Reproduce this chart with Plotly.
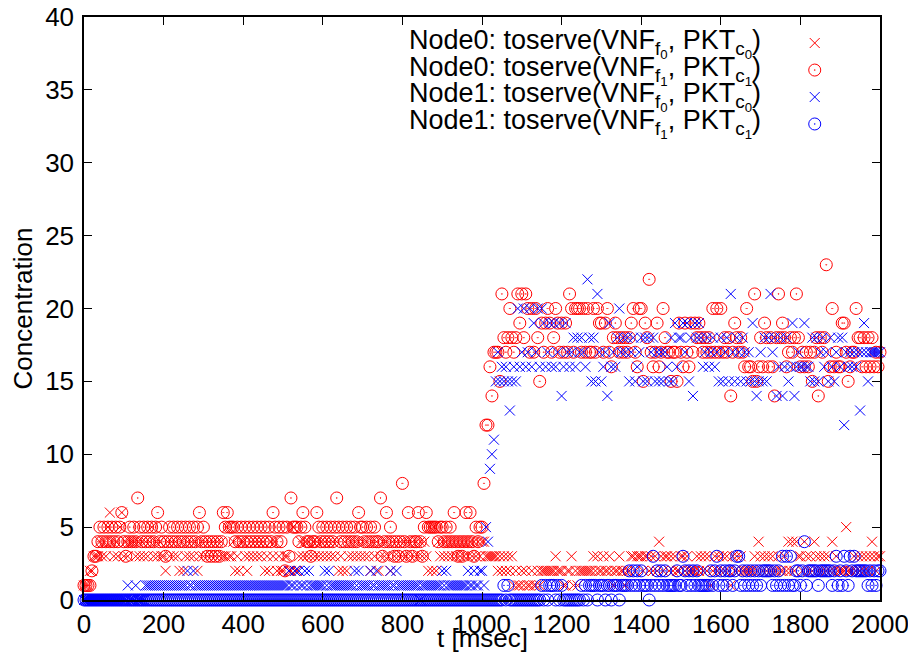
import plotly.graph_objects as go

# sampling times (ms)
t_ms = list(range(0, 2001, 5))

# Node0: toserve(VNF_f0, PKT_c0)  (red x)
node0_f0 = [
    1,1,1,2,2,3,3,3,4,3,4,3,5,6,4,3,4,3,5,6,
    3,4,3,4,4,4,3,4,3,4,3,4,3,4,5,3,4,3,4,3,
    3,2,4,3,4,3,4,3,2,4,2,3,4,3,4,3,4,2,3,4,
    3,4,3,4,3,4,3,4,3,4,3,3,5,3,3,4,2,3,2,4,
    4,3,2,3,4,3,4,3,4,3,4,2,3,2,4,3,4,2,3,2,
    2,3,3,2,2,5,2,2,3,4,3,4,3,4,3,4,3,4,3,4,
    3,4,3,4,3,4,3,4,2,3,2,4,2,3,4,3,4,3,4,3,
    4,3,4,3,2,4,3,4,2,3,4,3,4,3,2,4,3,4,3,4,
    3,4,3,4,3,4,3,4,3,4,3,4,3,2,5,2,5,2,4,3,
    4,3,4,3,4,3,4,3,4,3,4,3,4,3,4,3,4,3,4,3,
    4,4,3,3,3,3,3,3,2,3,2,3,2,3,2,3,1,2,1,1,
    2,1,2,1,1,2,1,1,2,1,2,2,2,2,2,2,2,3,2,2,
    2,1,1,2,2,3,1,2,1,2,2,2,2,2,2,2,3,2,3,2,
    2,3,2,2,3,2,1,2,2,3,2,2,1,2,2,3,3,2,3,3,
    3,2,3,3,2,3,2,3,2,4,3,2,3,3,2,3,2,3,2,2,
    3,3,2,3,2,2,2,2,3,2,3,2,3,2,3,1,2,3,2,3,
    2,3,2,3,2,1,3,2,3,2,3,2,2,2,2,2,2,3,2,4,
    3,2,3,2,3,2,3,2,2,3,2,2,3,2,4,2,4,2,4,3,
    3,2,4,3,2,3,2,4,3,2,3,2,3,2,3,2,4,2,3,2,
    2,2,2,5,2,2,2,3,2,3,2,3,2,3,2,3,4,3,2,3,
    3,
]

# Node0: toserve(VNF_f1, PKT_c1)  (red o)
node0_f1 = [
    1,1,1,1,2,3,3,4,5,4,5,4,5,4,5,4,5,4,5,6,
    4,3,4,5,4,5,4,7,5,4,5,4,5,4,5,4,5,6,4,5,
    4,3,4,5,4,5,4,5,4,5,4,5,4,5,4,5,4,5,6,4,
    5,4,3,4,3,4,3,4,3,4,6,5,6,5,5,5,4,5,4,5,
    4,5,4,5,4,5,4,5,4,5,4,5,4,5,4,6,5,4,5,4,
    5,2,5,3,7,5,5,5,4,5,6,5,4,4,3,4,4,6,5,4,
    5,4,5,4,5,4,5,7,5,4,5,4,5,4,5,4,5,4,6,5,
    5,4,5,4,5,4,5,4,4,7,3,4,6,4,5,4,3,4,3,4,
    8,4,3,6,4,3,4,4,6,4,3,5,6,5,5,5,5,5,4,5,
    5,4,5,4,5,4,6,4,3,4,3,4,6,4,6,4,3,5,4,5,
    5,8,12,12,16,14,17,17,17,15,21,18,17,18,20,18,17,18,21,19,
    21,18,21,20,17,20,17,20,18,15,19,17,19,20,19,17,18,20,19,17,
    19,17,19,17,21,20,17,20,20,20,17,20,17,20,17,17,20,17,20,19,
    19,17,19,20,17,16,18,19,18,17,18,17,18,17,18,19,20,17,16,20,
    20,15,19,18,22,17,16,17,19,16,17,20,18,17,17,15,17,17,15,19,
    17,16,19,17,16,19,17,19,18,19,18,17,18,17,18,17,20,17,20,17,
    20,17,18,17,18,14,17,19,18,17,18,17,16,20,16,16,15,21,15,16,
    18,16,19,18,16,18,16,14,18,21,18,19,18,16,17,18,17,18,21,18,
    16,17,16,17,16,17,15,17,18,14,18,17,18,23,15,16,20,16,17,16,
    16,19,19,17,15,16,17,17,20,18,18,16,18,16,18,16,18,16,17,16,
    17,
]

# Node1: toserve(VNF_f0, PKT_c0)  (blue x)
node1_f0 = [
    0,0,0,0,0,0,0,0,0,0,0,0,0,0,0,0,0,0,0,0,
    0,0,1,0,0,0,1,0,0,0,0,1,1,1,1,1,1,1,1,1,
    1,1,1,1,1,1,1,1,1,1,1,1,2,1,1,2,1,1,1,1,
    1,1,1,1,1,1,1,1,1,1,1,1,1,1,1,1,1,1,1,1,
    1,1,1,1,1,1,1,1,1,1,1,1,1,1,1,1,1,1,1,1,
    1,1,1,2,1,1,2,1,2,1,1,2,1,2,1,1,1,1,1,1,
    1,2,1,2,1,1,1,1,1,1,1,1,1,1,1,1,2,1,2,1,
    1,1,1,1,2,1,1,2,1,1,1,1,1,1,2,1,1,2,1,1,
    1,1,1,1,1,1,1,1,1,0,1,1,1,1,1,1,1,1,1,1,
    2,1,2,1,1,1,1,1,1,1,1,1,1,2,1,1,2,1,1,2,
    2,1,5,4,9,10,11,15,17,15,16,15,16,15,13,15,16,15,20,16,
    17,20,16,17,20,16,19,17,20,16,20,19,16,17,19,16,19,16,17,19,
    14,16,19,17,16,17,18,16,18,17,18,17,16,22,18,15,18,15,21,17,
    15,16,17,14,19,16,17,16,18,20,17,18,17,18,15,17,18,15,16,17,
    18,15,18,15,18,17,18,15,17,15,17,15,17,16,15,18,15,19,16,18,
    18,19,17,19,15,18,14,19,18,19,18,16,17,18,16,17,18,16,17,15,
    18,15,17,18,15,21,17,15,18,17,15,18,17,15,17,15,19,15,14,15,
    17,15,18,15,18,21,17,18,14,16,18,14,16,18,15,16,19,14,16,17,
    16,16,19,16,16,15,18,15,18,15,17,18,16,17,15,18,16,15,17,18,
    16,18,12,17,16,17,16,17,16,17,13,17,19,17,15,17,17,17,17,17,
    17,
]

# Node1: toserve(VNF_f1, PKT_c1)  (blue o)
node1_f1 = [
    0,0,0,0,0,0,0,0,0,0,0,0,0,0,0,0,0,0,0,0,
    0,0,0,0,0,0,0,0,0,0,0,0,0,0,0,0,0,0,0,0,
    0,0,0,0,0,0,0,0,0,0,0,0,0,0,0,0,0,0,0,0,
    0,0,0,0,0,0,0,0,0,0,0,0,0,0,0,0,0,0,0,0,
    0,0,0,0,0,0,0,0,0,0,0,0,0,0,0,0,0,0,0,0,
    0,0,0,0,0,0,0,0,0,0,0,0,0,0,0,0,0,0,0,0,
    0,0,0,0,0,0,0,0,0,0,0,0,0,0,0,0,0,0,0,0,
    0,0,0,0,0,0,0,0,0,0,0,0,0,0,0,0,0,0,0,0,
    0,0,0,0,0,0,0,0,0,0,0,0,0,0,0,0,0,0,0,0,
    0,0,0,0,0,0,0,0,0,0,0,0,0,0,0,0,0,0,0,0,
    0,0,0,0,0,0,0,0,0,0,0,1,0,1,0,0,0,0,0,0,
    0,0,0,0,0,0,0,0,0,0,1,0,1,0,1,1,1,0,1,0,
    1,0,0,0,0,0,0,0,0,0,1,0,1,0,1,1,1,1,0,1,
    1,1,0,1,1,0,1,1,1,0,1,1,1,1,2,1,2,1,2,1,
    2,1,1,1,0,1,3,1,2,1,2,1,2,1,1,1,1,1,2,1,
    1,3,2,1,2,1,2,1,2,1,1,1,1,1,1,2,1,2,3,1,
    2,1,2,1,2,2,1,2,3,3,1,2,1,2,1,2,1,2,1,2,
    1,2,2,2,2,2,1,2,1,2,1,3,1,3,1,3,1,1,2,2,
    1,2,4,1,2,2,2,2,2,1,2,2,2,2,2,2,1,2,3,1,
    2,1,3,2,1,3,2,3,2,2,2,2,2,2,1,2,1,2,1,2,
    2,
]

series_names = [
    "Node0: toserve(VNF<sub>f<sub>0</sub></sub>, PKT<sub>c<sub>0</sub></sub>)",
    "Node0: toserve(VNF<sub>f<sub>1</sub></sub>, PKT<sub>c<sub>1</sub></sub>)",
    "Node1: toserve(VNF<sub>f<sub>0</sub></sub>, PKT<sub>c<sub>0</sub></sub>)",
    "Node1: toserve(VNF<sub>f<sub>1</sub></sub>, PKT<sub>c<sub>1</sub></sub>)",
]
x_ticks = list(range(0, 2001, 200))
y_ticks = list(range(0, 41, 5))

RED = "#ff0000"
BLUE = "#0000ff"
FONT = "Liberation Sans, Arial, Helvetica, sans-serif"
FS = 26
styles = [
    (node0_f0, RED, "x-thin-open", 10),
    (node0_f1, RED, "circle-open-dot", 12),
    (node1_f0, BLUE, "x-thin-open", 10),
    (node1_f1, BLUE, "circle-open-dot", 12),
]

fig = go.Figure()
for (vals, color, sym, size), name in zip(styles, series_names):
    fig.add_trace(go.Scatter(
        x=t_ms, y=vals, mode="markers", name=name, showlegend=False,
        cliponaxis=False,
        marker=dict(symbol=sym, size=size, color=color,
                    line=dict(color=color, width=1)),
    ))

# gnuplot-style key: text right-aligned, sample to the right
key_rows = [0.9554, 0.909, 0.8628, 0.8165]
for (vals, color, sym, size), name, ky in zip(styles, series_names, key_rows):
    fig.add_trace(go.Scatter(
        x=[0.918], y=[ky], xaxis="x2", yaxis="y2", mode="markers",
        showlegend=False, hoverinfo="skip", cliponaxis=False,
        marker=dict(symbol=sym, size=size, color=color,
                    line=dict(color=color, width=1)),
    ))
    fig.add_annotation(
        x=0.853, y=ky, xref="paper", yref="paper", xanchor="right",
        yanchor="middle", text=name, showarrow=False,
        font=dict(family=FONT, size=27, color="black"),
    )

# x-axis title placed like gnuplot's xlabel, at the bottom edge
fig.add_annotation(
    x=0.5, y=0, xref="paper", yref="paper", xanchor="center",
    yanchor="bottom", yshift=-55, text="t [msec]", showarrow=False,
    font=dict(family=FONT, size=FS, color="black"),
)

axis_common = dict(
    showline=True, linecolor="black", linewidth=1.5, mirror="ticks",
    ticks="inside", ticklen=8, tickwidth=1, tickcolor="black",
    showgrid=False, zeroline=False, ticklabeloverflow="allow",
    tickfont=dict(family=FONT, size=FS, color="black"),
)
# page has an 8px body margin: figure 900x648 fills the 916x664 window
fig.update_layout(
    width=900, height=648,
    margin=dict(l=76, r=28, t=9, b=56, autoexpand=False),
    paper_bgcolor="white", plot_bgcolor="white",
    font=dict(family=FONT, size=FS, color="black"),
    xaxis=dict(range=[0, 2000], tickvals=x_ticks, **axis_common),
    yaxis=dict(range=[0, 40], tickvals=y_ticks, ticklabelstandoff=3,
               title=dict(text="Concentration", standoff=8,
                          font=dict(family=FONT, size=FS)),
               **axis_common),
    xaxis2=dict(overlaying="x", range=[0, 1], visible=False),
    yaxis2=dict(overlaying="y", range=[0, 1], visible=False),
)

fig.write_html("out.html")
